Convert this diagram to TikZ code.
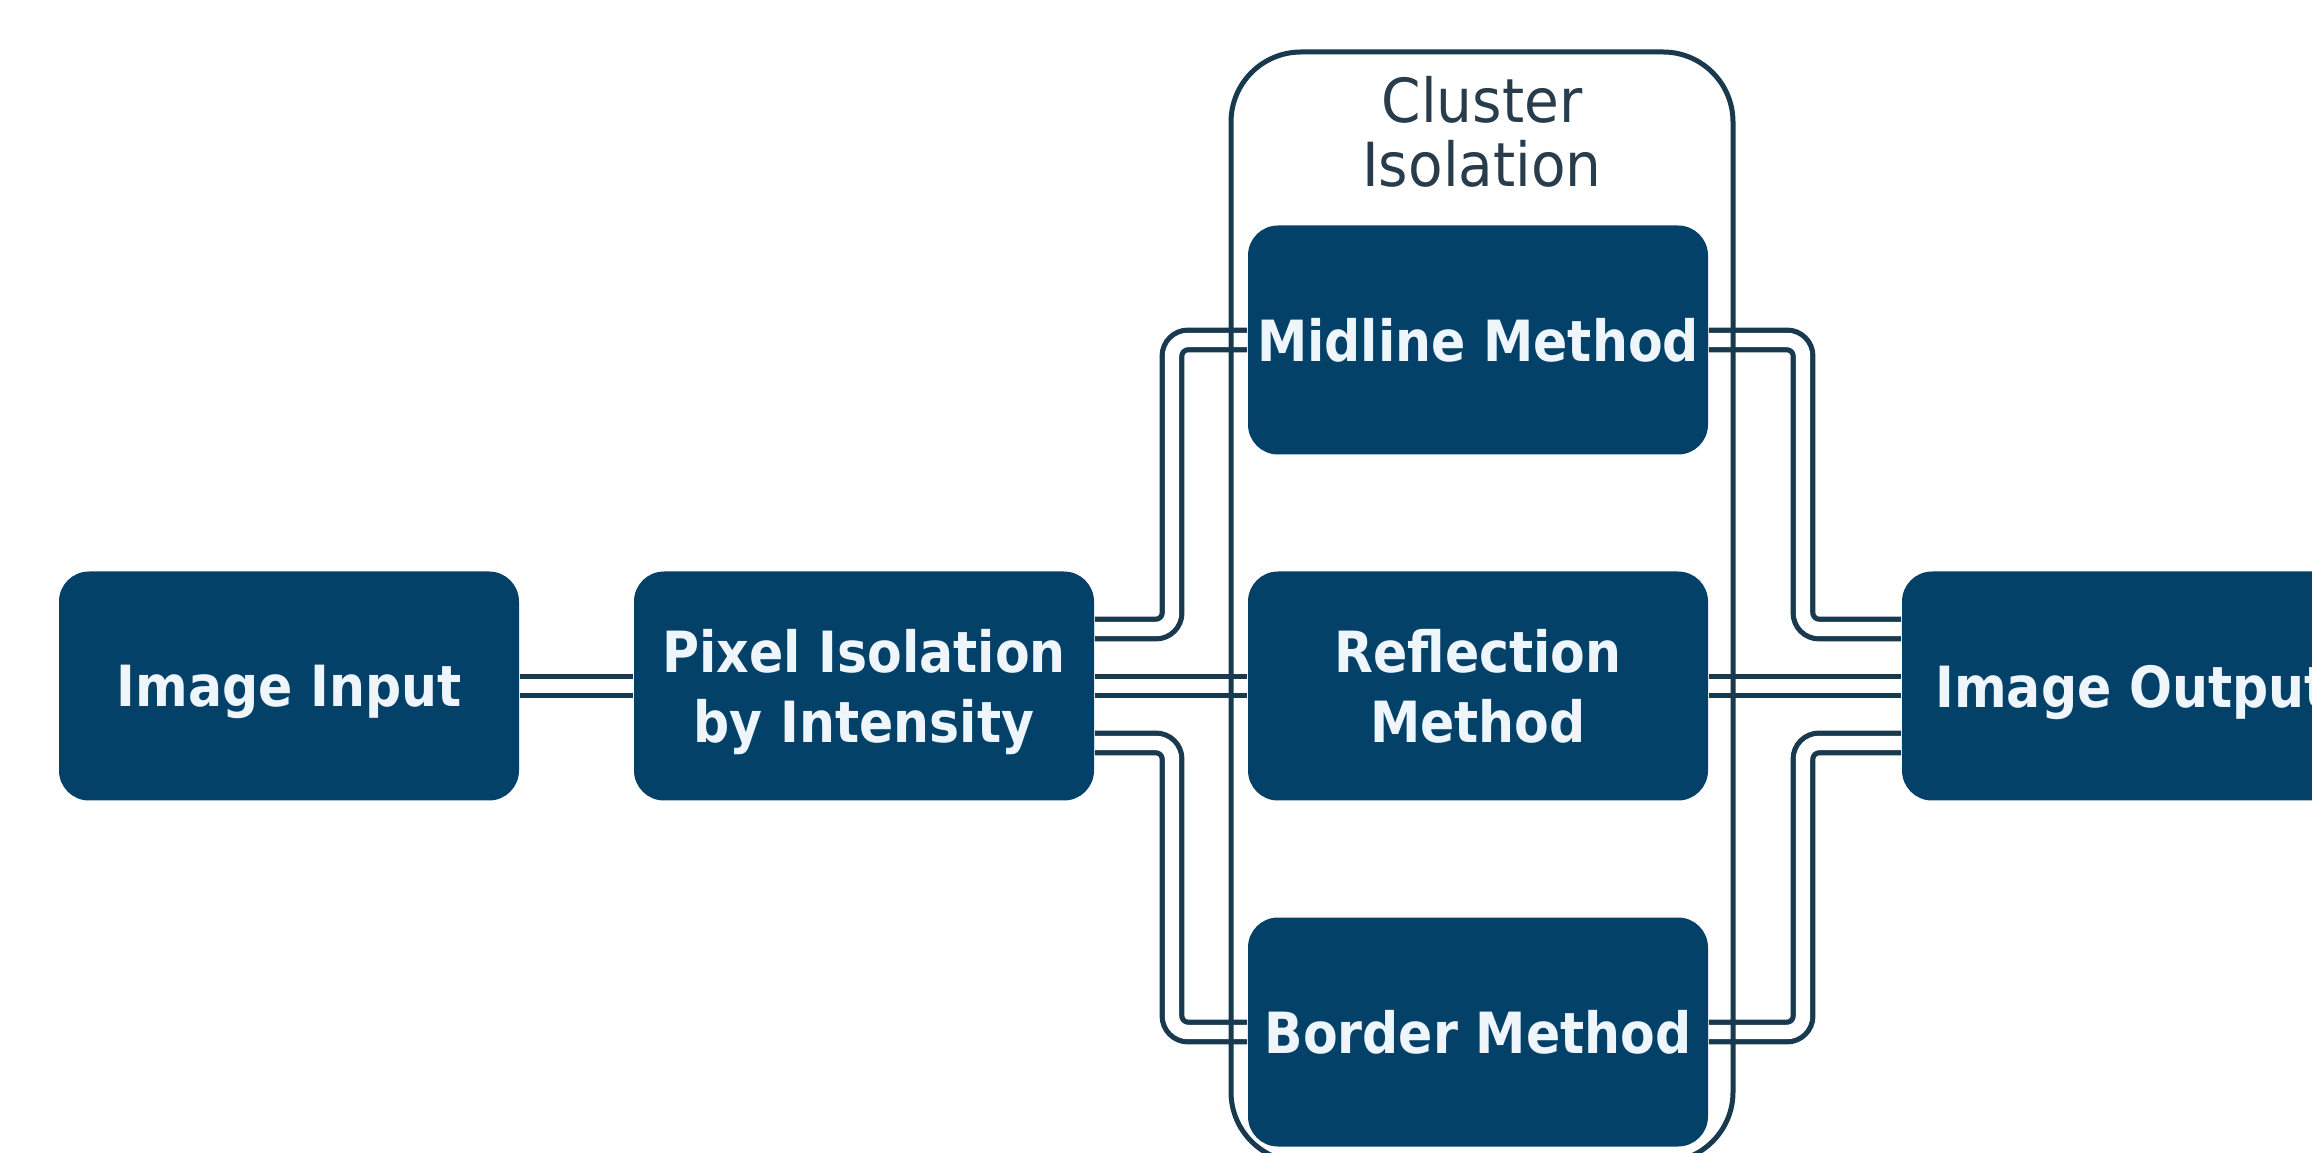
\documentclass[tikz,border=0pt]{standalone}
\usepackage{fontspec}
\setmainfont{DejaVu Sans}
\newfontfamily\boxfont[FakeStretch=0.89]{DejaVu Sans}
\newfontfamily\labelfont[FakeStretch=0.93]{DejaVu Sans}
\definecolor{boxblue}{RGB}{4,65,104}
\definecolor{lineblue}{RGB}{24,57,78}
\definecolor{txtwhite}{RGB}{238,246,252}
\definecolor{labelgray}{RGB}{40,60,75}
\begin{document}
\begin{tikzpicture}[x=0.25pt,y=-0.25pt,
  proc/.style={rectangle, rounded corners=7.5pt, fill=boxblue, text=txtwhite,
    minimum width=115pt, minimum height=57.25pt, text depth=-2.6pt,
    font=\boxfont\fontsize{14.2}{17.5}\selectfont\bfseries, align=center, inner sep=0pt},
  conn/.style={draw=lineblue, line width=1.3pt, double=white, double distance=3.6pt, rounded corners=4pt},
  cluster/.style={draw=lineblue, line width=1.25pt, rounded corners=17.5pt,
    minimum width=125.5pt, minimum height=277.5pt, inner sep=0pt},
  clabel/.style={font=\labelfont\fontsize{15.2}{16}\selectfont, text=labelgray, align=center, inner sep=0pt}]
\useasboundingbox[fill=white] (0,0) rectangle (2312,1153);

\node[proc] (in)  at (289,686)  {Image Input};
\node[proc] (pix) at (864,686)  {Pixel Isolation\\by Intensity};
\node[proc] (mid) at (1478,340) {Midline Method};
\node[proc] (ref) at (1478,686) {Reflection\\Method};
\node[proc] (bor) at (1478,1032) {Border Method};
\node[proc] (out) at (2132,686) {Image Output};

\coordinate (lx) at (1172,686);
\coordinate (rx) at (1803,686);
\coordinate (pixU) at ([yshift=14.25pt]pix.east);
\coordinate (pixD) at ([yshift=-14.25pt]pix.east);
\coordinate (outU) at ([yshift=14.25pt]out.west);
\coordinate (outD) at ([yshift=-14.25pt]out.west);

\draw[conn] (in.east) -- (pix.west);
\draw[conn] (pix.east) -- (ref.west);
\draw[conn] (pixU) -| (lx |- mid.west) -- (mid.west);
\draw[conn] (pixD) -| (lx |- bor.west) -- (bor.west);
\draw[conn] (ref.east) -- (out.west);
\draw[conn] (mid.east) -| (rx |- outU) -- (outU);
\draw[conn] (bor.east) -| (rx |- outD) -- (outD);

\node[cluster] (clbox) at (1482,607) {};
\node[clabel] (cl) at (1482,132) {Cluster\\Isolation};
\end{tikzpicture}
\end{document}
